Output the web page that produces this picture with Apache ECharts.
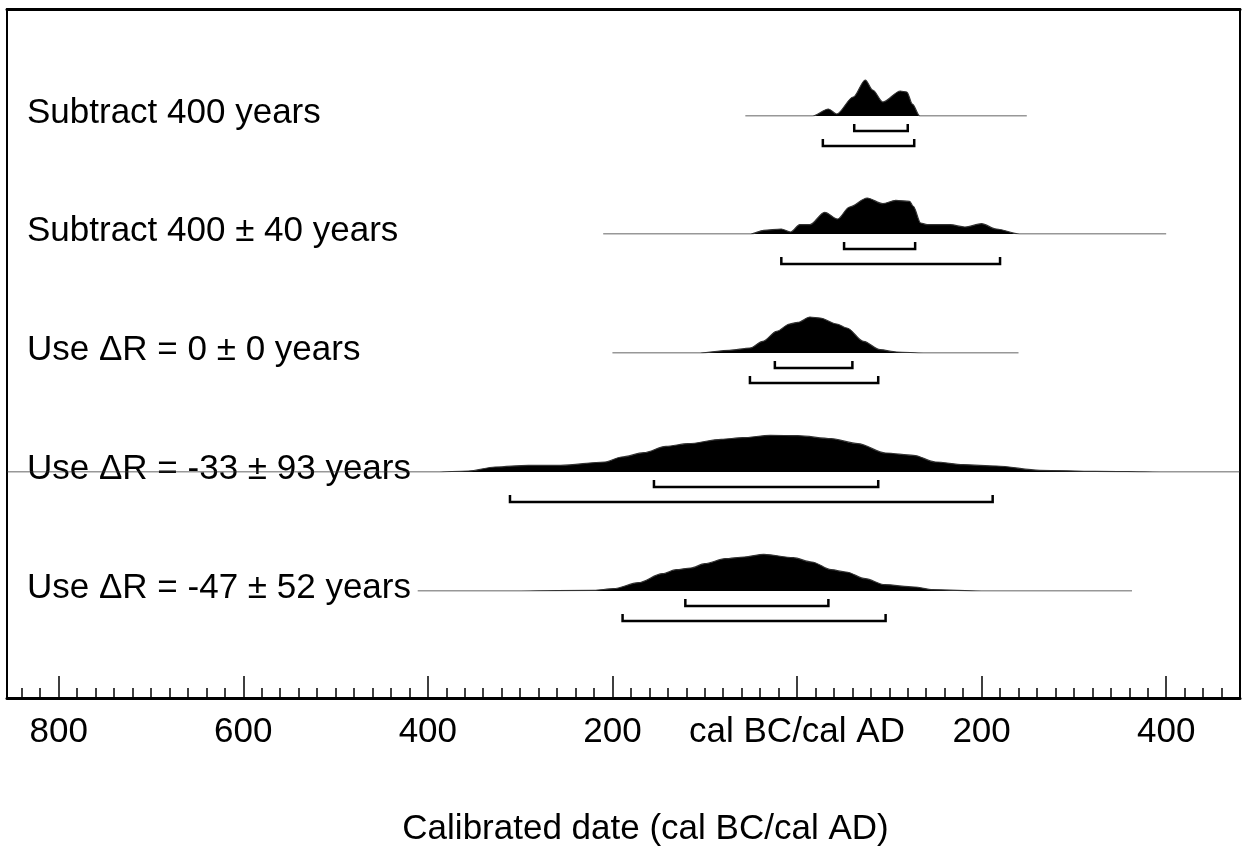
<!DOCTYPE html>
<html><head><meta charset="utf-8">
<script src="https://cdn.jsdelivr.net/npm/echarts@6/dist/echarts.min.js"></script>
<style>html,body{margin:0;padding:0;background:#fff}#c{width:1242px;height:863px}</style>
</head><body><div id="c"></div>
<script>
// ---- data ----
const rowNames = ['Subtract 400 years', 'Subtract 400 ± 40 years', 'Use ΔR = 0 ± 0 years', 'Use ΔR = -33 ± 93 years', 'Use ΔR = -47 ± 52 years'];
// relative probability (arbitrary units) vs calendar year (negative = cal BC)
const distSub400 = [[-56,0],[17,0],[34,7],[43,2],[61,19],[74,36],[82,26],[93,14],[112,25],[119,24],[125,12],[133,0],[249,0]];
const distSub400pm40 = [[-210,0],[-50,0],[-36,3.7],[-17,5],[-7,2],[3,9.3],[14,9.3],[30,21.7],[44,15],[57,27],[76,36],[93,30.3],[107,33.7],[122,32.7],[126,27.7],[134,11],[141,9.3],[166,9.3],[182,7],[200,10.3],[216,5],[241,0],[400,0]];
const distDR0 = [[-200,0],[-105,0],[-73,2.7],[-51,5],[-37,11.7],[-22,21.7],[-8,29],[1,30.7],[14,36],[25,35],[43,29],[54,25],[72,11.7],[90,3.3],[108,1],[137,0],[240,0]];
const distDR33 = [[-856,0],[-392,0],[-356,1],[-327,5],[-291,6.7],[-256,6.7],[-208,10],[-190,15],[-166,19.3],[-142,25.7],[-118,28.3],[-82,32.7],[-59,34.3],[-29,36.7],[1,36.3],[37,33.3],[66,28.3],[96,19],[126,16.7],[150,10],[180,7.3],[216,6],[263,1.7],[323,0.7],[394,0],[480,0]];
const distDR47 = [[-411,0],[-299,0],[-220,0.7],[-199,2.3],[-172,8.3],[-146,17.3],[-131,21.3],[-115,23],[-100,27.3],[-78,32.3],[-57,34],[-36,36.7],[-4,33.3],[16,29],[37,21.3],[53,19],[74,12.3],[95,6.3],[127,4],[147,1.3],[200,0],[363,0]];
const range68 = [[62,120],[51,128],[-24,60],[-155,88],[-121,34]];
const range95 = [[28,127],[-17,220],[-51,88],[-311,212],[-189,96]];
const tickYears = [-800,-600,-400,-200,0,200,400];
const tickLabels = ['800','600','400','200','cal BC/cal AD','200','400'];
const axisTitle = 'Calibrated date (cal BC/cal AD)';

// ---- layout ----
const dists = [distSub400, distSub400pm40, distDR0, distDR33, distDR47];
const X_MIN = -856, X_MAX = 480;
const minorYears = [];
for (let y = -840; y <= 460; y += 20) minorYears.push(y);
const FONT = "'Liberation Sans', Arial, Helvetica, sans-serif";
const FS = 35;
const rowBaselines = [116, 234, 353, 472, 591];
const rowH = 40;

const grid = [{left: 7, right: 2, top: 9, bottom: 165}];
const xAxis = [
  {gridIndex: 0, type: 'value', min: X_MIN, max: X_MAX, position: 'bottom',
   axisLine: {onZero: false, lineStyle: {color: '#000', width: 3}},
   axisTick: {inside: true, length: 22, customValues: tickYears, lineStyle: {color: '#000', width: 1.5}},
   axisLabel: {customValues: tickYears, margin: 17, color: '#000', fontSize: FS, fontFamily: FONT,
     formatter: v => tickLabels[tickYears.indexOf(Math.round(v))] ?? ''},
   splitLine: {show: false},
   name: axisTitle, nameLocation: 'middle', nameGap: 114,
   nameTextStyle: {color: '#000', fontSize: FS, fontFamily: FONT, padding: [0, 0, 0, 44]}},
  {gridIndex: 0, type: 'value', min: X_MIN, max: X_MAX, position: 'bottom',
   axisLine: {show: false, onZero: false},
   axisTick: {inside: true, length: 10, customValues: minorYears, lineStyle: {color: '#000', width: 1.5}},
   axisLabel: {show: false}, splitLine: {show: false}},
  {gridIndex: 0, type: 'value', min: X_MIN, max: X_MAX, position: 'top',
   axisLine: {onZero: false, lineStyle: {color: '#000', width: 3}},
   axisTick: {show: false}, axisLabel: {show: false}, splitLine: {show: false}}
];
const yAxis = [
  {gridIndex: 0, type: 'value', min: 0, max: 1, position: 'left',
   axisLine: {show: true, onZero: false, lineStyle: {color: '#000', width: 2}},
   axisTick: {show: false}, axisLabel: {show: false}, splitLine: {show: false}},
  {gridIndex: 0, type: 'value', min: 0, max: 1, position: 'right',
   axisLine: {show: true, onZero: false, lineStyle: {color: '#000', width: 2}},
   axisTick: {show: false}, axisLabel: {show: false}, splitLine: {show: false}}
];
const series = [];
dists.forEach((d, i) => {
  grid.push({left: 7, right: 2, top: rowBaselines[i] - rowH, height: rowH});
  const gi = i + 1;
  xAxis.push({gridIndex: gi, type: 'value', min: X_MIN, max: X_MAX, show: false});
  yAxis.push({gridIndex: gi, type: 'value', min: 0, max: rowH, position: 'left',
    axisLine: {show: false, onZero: false}, axisTick: {show: false}, splitLine: {show: false},
    axisLabel: {inside: true, margin: 20, customValues: [3], color: '#000', fontSize: FS, fontFamily: FONT,
      formatter: () => rowNames[i]}});
  series.push({type: 'line', xAxisIndex: 3 + i, yAxisIndex: 2 + i, data: d, showSymbol: false, symbol: 'none',
    smooth: 0.3, smoothMonotone: 'x',
    lineStyle: {color: '#333', width: 1.2}, areaStyle: {color: '#000', opacity: 1}, silent: true, z: 3});
  series.push({type: 'custom', xAxisIndex: 3 + i, yAxisIndex: 2 + i, clip: false, silent: true,
    data: [[range68[i][0], range68[i][1], 0], [range95[i][0], range95[i][1], 1]],
    encode: {x: [0, 1]},
    renderItem: (params, api) => {
      const a = api.coord([api.value(0), 0]);
      const b = api.coord([api.value(1), 0]);
      const lvl = api.value(2);
      const top = a[1] + 8 + lvl * 15, bot = a[1] + 15 + lvl * 15;
      return {type: 'polyline', shape: {points: [[a[0], top], [a[0], bot], [b[0], bot], [b[0], top]]},
        style: {stroke: '#000', lineWidth: 2.5, fill: null}};
    }});
});

const chart = echarts.init(document.getElementById('c'), null, {renderer: 'canvas'});
chart.setOption({animation: false, backgroundColor: '#fff', grid, xAxis, yAxis, series});
</script></body></html>
